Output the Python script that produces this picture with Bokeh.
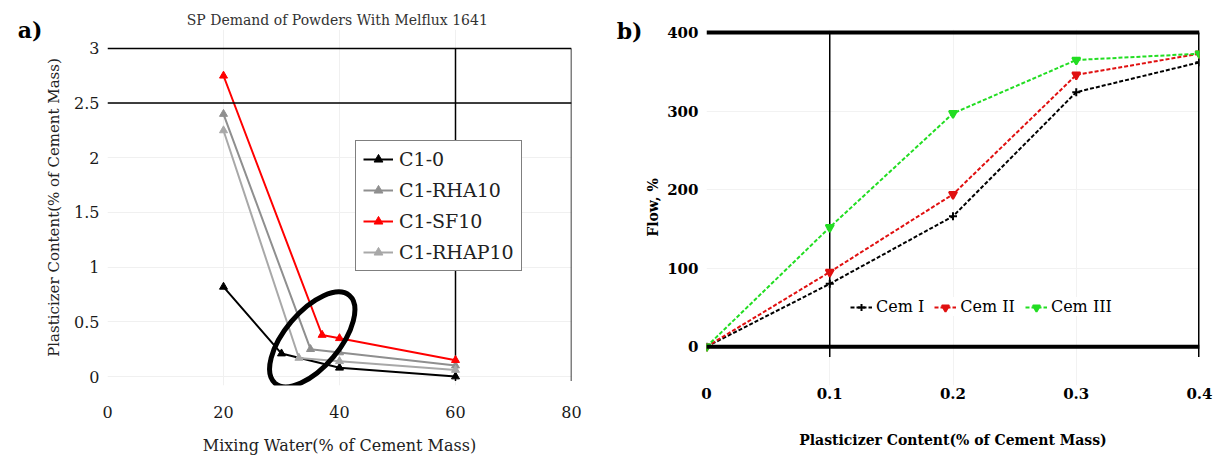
from bokeh.plotting import figure
from bokeh.models import (Range1d, FixedTicker, Span, Legend, LegendItem, Title,
                          NumeralTickFormatter, LinearAxis, CustomJSTickFormatter)
from bokeh.layouts import row
from bokeh.embed import file_html
from bokeh.resources import INLINE

# ---------------- data: panel a ----------------
a_title = "SP Demand  of Powders With Melflux 1641"
water_c1_0 = [20, 30, 40, 60]
sp_c1_0 = [0.82, 0.21, 0.08, 0.0]
water_c1_rha10 = [20, 35, 40, 60]
sp_c1_rha10 = [2.40, 0.25, 0.22, 0.10]
water_c1_sf10 = [20, 37, 40, 60]
sp_c1_sf10 = [2.75, 0.38, 0.35, 0.15]
water_c1_rhap10 = [20, 33, 40, 60]
sp_c1_rhap10 = [2.25, 0.17, 0.14, 0.06]
a_xticks = [0, 20, 40, 60, 80]
a_yticks = [0, 0.5, 1, 1.5, 2, 2.5, 3]
# highlighted region (ellipse annotation)
highlight_x = [35.3]
highlight_y = [0.34]

# ---------------- data: panel b ----------------
sp_content = [0, 0.1, 0.2, 0.3, 0.4]
flow_cem1 = [0, 80, 166, 324, 362]
flow_cem2 = [0, 95, 194, 346, 373]
flow_cem3 = [0, 152, 297, 365, 373]
b_xticks = [0, 0.1, 0.2, 0.3, 0.4]
b_yticks = [0, 100, 200, 300, 400]

SERIF = "DejaVu Serif"
H = 457
TOP = 29
BOTTOM = H - 387


def panel_tag(p, tick_value, text):
    ax = LinearAxis(ticker=FixedTicker(ticks=[tick_value]),
                    formatter=CustomJSTickFormatter(code="return '%s';" % text))
    ax.axis_line_color = None
    ax.major_tick_line_color = None
    ax.minor_tick_line_color = None
    ax.major_tick_out = 0
    ax.major_tick_in = 0
    ax.major_label_text_font = SERIF
    ax.major_label_text_font_style = "bold"
    ax.major_label_text_font_size = "22px"
    ax.major_label_text_color = "black"
    ax.major_label_standoff = 0
    p.add_layout(ax, "left")


# ================= panel a =================
pa = figure(width=610, height=H, x_range=Range1d(0, 80), y_range=Range1d(-0.0818, 3.173),
            output_backend="svg", toolbar_location=None,
            min_border_left=107, min_border_right=39, min_border_top=TOP,
            min_border_bottom=BOTTOM)
pa.outline_line_color = None

pa.add_layout(Title(text=a_title, align="center", text_font=SERIF, text_font_size="14px",
                    text_font_style="normal", text_color="#333333", standoff=3), "above")

pa.xaxis.ticker = FixedTicker(ticks=a_xticks)
pa.yaxis.ticker = FixedTicker(ticks=a_yticks)
pa.xaxis.formatter = NumeralTickFormatter(format="0.[0]")
pa.yaxis.formatter = NumeralTickFormatter(format="0.[0]")
for ax in (pa.xaxis, pa.yaxis):
    ax.axis_line_color = None
    ax.major_tick_line_color = None
    ax.minor_tick_line_color = None
    ax.major_tick_out = 0
    ax.major_tick_in = 0
    ax.major_label_text_font = SERIF
    ax.major_label_text_font_size = "16px"
    ax.major_label_text_color = "#1a1a1a"
    ax.axis_label_text_font = SERIF
    ax.axis_label_text_font_size = "15px"
    ax.axis_label_text_font_style = "normal"
    ax.axis_label_text_color = "#222222"
pa.yaxis.bounds = (0, 3)
pa.xaxis.major_label_standoff = 20
pa.yaxis.major_label_standoff = 8
pa.xaxis.axis_label = "Mixing Water(% of Cement Mass)"
pa.xaxis.axis_label_text_font_size = "16px"
pa.yaxis.axis_label = "Plasticizer Content(% of Cement Mass)"
pa.xaxis.axis_label_standoff = 15
pa.yaxis.axis_label_standoff = 8
pa.grid.grid_line_color = "#f0f0f0"
panel_tag(pa, 3.165, "a)")

for loc in (3.0, 2.5):
    pa.add_layout(Span(location=loc, dimension="width", line_color="black", line_width=1.5))
pa.segment(x0=[60, 80], y0=[-0.04, -0.04], x1=[60, 80], y1=[3.0, 3.0],
           line_color="black", line_width=1.5)

series_a = [
    ("C1-0", water_c1_0, sp_c1_0, "black"),
    ("C1-RHA10", water_c1_rha10, sp_c1_rha10, "#8f8f8f"),
    ("C1-SF10", water_c1_sf10, sp_c1_sf10, "#ff0000"),
    ("C1-RHAP10", water_c1_rhap10, sp_c1_rhap10, "#a8a8a8"),
]
items_a = []
for name, xs, ys, col in series_a:
    l = pa.line(xs, ys, line_color=col, line_width=2)
    m = pa.scatter(xs, ys, marker="triangle", size=8, fill_color=col, line_color=col)
    items_a.append(LegendItem(label=name, renderers=[l, m]))

pa.ellipse(x=highlight_x, y=highlight_y, width=115, height=55, angle=0.87,
           width_units="screen", height_units="screen",
           fill_color=None, line_color="black", line_width=5)

leg_a = Legend(items=items_a, location=(248, 114), orientation="vertical",
               border_line_color="black", border_line_width=1.5,
               background_fill_color="white", background_fill_alpha=1.0,
               label_text_font=SERIF, label_text_font_size="19px", label_text_color="#222222",
               glyph_width=30, glyph_height=22, label_height=22, label_standoff=6,
               spacing=9, padding=7, margin=0)
pa.add_layout(leg_a, "center")

# ================= panel b =================
pb = figure(width=608, height=H, x_range=Range1d(0, 0.4), y_range=Range1d(-49.4, 403.8),
            output_backend="svg", toolbar_location=None,
            min_border_left=96, min_border_right=19, min_border_top=TOP,
            min_border_bottom=BOTTOM)
pb.outline_line_color = None
pb.xaxis.ticker = FixedTicker(ticks=b_xticks)
pb.yaxis.ticker = FixedTicker(ticks=b_yticks)
pb.xaxis.formatter = NumeralTickFormatter(format="0.[0]")
pb.yaxis.formatter = NumeralTickFormatter(format="0")
for ax in (pb.xaxis, pb.yaxis):
    ax.axis_line_color = None
    ax.major_tick_line_color = None
    ax.minor_tick_line_color = None
    ax.major_tick_out = 0
    ax.major_tick_in = 0
    ax.major_label_text_font = SERIF
    ax.major_label_text_font_size = "15px"
    ax.major_label_text_font_style = "bold"
    ax.major_label_text_color = "black"
    ax.axis_label_text_font = SERIF
    ax.axis_label_text_font_size = "14px"
    ax.axis_label_text_font_style = "bold"
    ax.axis_label_text_color = "black"
pb.yaxis.bounds = (0, 400)
pb.xaxis.major_label_standoff = 2
pb.yaxis.major_label_standoff = 8
pb.xaxis.axis_label = "Plasticizer Content(% of Cement Mass)"
pb.yaxis.axis_label = "Flow, %"
pb.xaxis.axis_label_standoff = 30
pb.yaxis.axis_label_standoff = 3
pb.grid.grid_line_color = "#f2f2f2"
panel_tag(pb, 402, "b)")

pb.add_layout(Span(location=400, dimension="width", line_color="black", line_width=4))
pb.add_layout(Span(location=0, dimension="width", line_color="black", line_width=4))
pb.segment(x0=[0.1], y0=[-13], x1=[0.1], y1=[400], line_color="black", line_width=1.5)
pb.segment(x0=[0.4], y0=[-13], x1=[0.4], y1=[400], line_color="black", line_width=3)

series_b = [
    ("Cem I", flow_cem1, "black", "cross"),
    ("Cem II", flow_cem2, "#e01010", "inverted_triangle"),
    ("Cem III", flow_cem3, "#22dd22", "inverted_triangle"),
]
items_b = []
for name, ys, col, mk in series_b:
    l = pb.line(sp_content, ys, line_color=col, line_width=2, line_dash="4 2")
    m = pb.scatter(sp_content, ys, marker=mk, size=8, fill_color=col, line_color=col, line_width=2)
    items_b.append(LegendItem(label=name, renderers=[l, m]))

leg_b = Legend(items=items_b, location=(144, 69), orientation="horizontal",
               border_line_color=None, background_fill_color="white", background_fill_alpha=1.0,
               label_text_font=SERIF, label_text_font_size="16px", label_text_color="black",
               glyph_width=22, glyph_height=18, label_height=18, label_standoff=4,
               spacing=10, padding=4, margin=0)
pb.add_layout(leg_b, "center")

layout = row(pa, pb, spacing=0)
open("out.html", "w").write(file_html(layout, INLINE))
